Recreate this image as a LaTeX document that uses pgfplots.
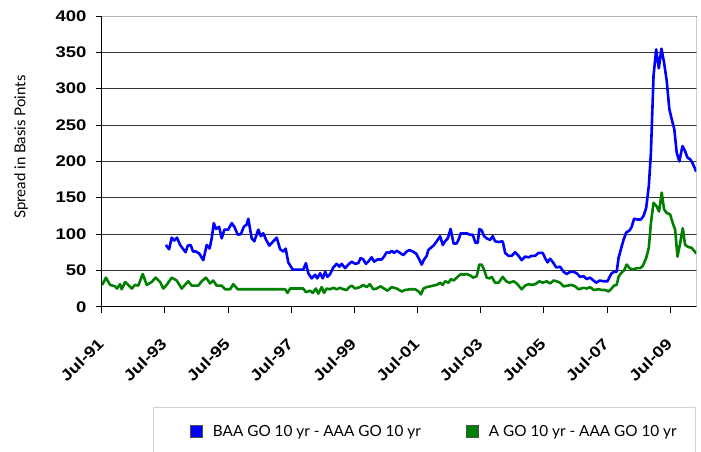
\documentclass[border=0pt]{standalone}
\usepackage{fontspec}
\setmainfont{Liberation Sans}
\newfontfamily\tickfont[FakeStretch=1.2]{Liberation Sans}
\newfontfamily\legfont{Lato}
\usepackage{pgfplots}
\pgfplotsset{compat=1.18}
\definecolor{ser1}{RGB}{0,0,255}
\definecolor{ser2}{RGB}{0,128,0}
\begin{document}
\begin{tikzpicture}
\useasboundingbox (0pt,0pt) rectangle (701pt,451pt);
\begin{axis}[
  at={(101.7pt,144.3pt)}, anchor=south west,
  scale only axis, width=595pt, height=290.7pt,
  xmin=0, xmax=226.1, ymin=0, ymax=400,
  xtick={0,24,...,216},
  xticklabels={Jul-91,Jul-93,Jul-95,Jul-97,Jul-99,Jul-01,Jul-03,Jul-05,Jul-07,Jul-09},
  ytick={0,50,...,400},
  axis lines*=left, axis line style={black, line width=0.9pt, -},
  tick align=outside, major tick length=6pt,
  tick style={black, line width=0.9pt},
  ymajorgrids, grid style={black!80, line width=0.8pt},
  /pgf/number format/assume math mode=true,
  ticklabel style={font=\tickfont\bfseries\fontsize{15.4}{18}\selectfont},
  yticklabel style={anchor=east, inner sep=0pt, xshift=-9pt},
  xticklabel style={inner sep=0pt, xshift=-5pt, yshift=-24pt, rotate=45, anchor=north east},
  ylabel={Spread in Basis Points},
  ylabel style={font=\legfont\fontsize{15}{17}\selectfont, at={(axis description cs:-0.1356,0.549)}, anchor=center},
  legend style={at={(axis description cs:0.0867,-0.344)}, anchor=north west,
    draw=gray!35, line width=1.2pt, font=\legfont\fontsize{15.3}{18}\selectfont,
    inner xsep=17pt, inner ysep=16pt,
    /tikz/every odd column/.append style={column sep=8pt},
    /tikz/every even column/.append style={column sep=43pt}},
  legend columns=2,
  line join=round,
]
\addplot[ser1, line width=2.6pt, legend image code/.code={\path (0pt,0pt); \draw[fill=ser1, draw=black!70, line width=0.6pt] (18pt,-6.2pt) rectangle (30.5pt,6.2pt);}] coordinates {
(24.4,85) (25.6,79) (26.6,95) (27.6,91) (28.6,95) (29.8,85) (31.0,79) (31.9,75) (32.7,84) (33.8,85) (34.7,76) (35.8,76) (37.1,73) (38.6,64) (39.9,85) (41.0,80) (41.8,94) (42.6,115) (43.4,107) (44.6,110) (45.6,94) (46.6,106) (48.1,106) (49.4,115) (50.4,110) (51.7,99) (52.9,100) (54.0,110) (55.1,113) (55.7,121) (57.0,94) (58.0,90) (59.5,106) (60.5,97) (61.4,101) (62.5,92) (63.7,84) (65.2,90) (66.5,95) (67.8,79) (69.0,76) (69.9,80) (70.9,61) (72.6,51) (76.6,51)
(77.6,60) (78.5,46) (79.8,39) (81.1,44) (81.9,39) (83.0,46) (84.0,39) (84.9,48) (85.8,41) (86.8,45) (88.0,54) (89.3,59) (90.3,55) (91.2,59) (92.5,53) (93.7,58) (95.0,62) (96.3,59) (97.5,60) (98.4,67) (99.4,65) (100.4,59) (101.3,62) (102.6,68) (103.5,62) (104.8,65) (106.4,65) (107.3,69) (108.3,75) (109.3,74) (110.2,77) (111.1,74) (112.1,77) (113.4,74) (114.6,71) (115.9,76) (116.9,78) (118.2,76) (119.5,73) (120.4,67) (121.6,58) (122.5,65) (123.5,70) (124.1,78) (125.4,82) (126.3,85) (127.3,90) (128.6,97) (129.6,85) (130.5,90) (131.5,94) (132.6,107) (133.7,87) (134.9,87) (135.8,94) (136.4,101) (137.5,101) (138.7,101) (140.0,99) (141.0,99) (142.0,88) (142.9,88) (143.5,107) (144.4,105) (145.3,97) (146.3,94) (147.6,92)
(148.6,97) (149.5,90) (150.8,89) (152.4,90) (153.3,74) (154.6,70) (155.8,70) (157.1,75) (158.4,70) (159.6,64) (160.9,69) (162.2,68) (163.4,70) (164.7,70) (166.0,74) (167.6,74) (168.5,67) (169.4,61) (170.4,66) (171.7,60) (172.7,54) (174.2,55) (175.5,48) (176.7,45) (178.0,48) (179.3,48) (180.5,46) (181.8,41) (183.1,42) (184.3,38) (185.6,40) (186.9,36) (187.9,33) (189.2,36) (190.7,35) (192.2,35) (193.0,41) (193.8,46) (194.7,48) (195.7,48) (196.4,67) (197.3,79) (198.3,92) (199.3,102) (200.6,105) (201.4,110) (202.3,121) (203.6,120) (204.9,120) (205.9,125) (206.9,136) (207.9,166) (208.7,212) (209.7,318) (210.7,354) (211.7,328) (212.7,355) (213.7,336) (214.7,311) (215.7,272) (216.6,258) (217.6,244) (218.5,212) (219.5,200) (220.7,221) (221.7,214) (222.6,205) (223.6,203) (224.6,197) (225.9,186)
};
\addlegendentry{BAA GO 10 yr - AAA GO 10 yr}
\addplot[ser2, line width=2.6pt, legend image code/.code={\draw[fill=ser2, draw=black!70, line width=0.6pt] (0pt,-6.2pt) rectangle (12.5pt,6.2pt);}] coordinates {
(0.2,30) (1.6,40) (3.2,30) (5.1,28) (5.8,25) (7.0,31) (7.6,24) (8.9,34) (10.1,30) (11.4,25) (12.7,30) (13.9,29) (15.6,45) (17.1,30) (19.0,34) (20.5,40) (22.2,34) (23.4,25) (24.7,30) (26.6,40) (28.5,36) (30.4,25) (32.9,35) (34.2,29) (36.7,29) (38.0,35) (39.6,40) (41.2,32) (42.4,36) (43.7,29) (45.6,29) (46.9,24) (48.8,24) (50.0,31) (51.7,24) (69.7,24) (70.6,19) (71.6,25)
(76.6,25) (77.6,20) (79.2,22) (80.2,19) (81.4,25) (82.3,18) (83.6,27) (84.5,19) (85.5,25) (86.8,24) (88.0,26) (89.3,24) (90.6,26) (91.8,24) (93.1,23) (94.1,27) (95.0,29) (96.3,25) (98.2,27) (99.4,30) (100.7,27) (101.9,31) (103.2,24) (104.5,25) (106.0,28) (107.3,25) (108.6,22) (110.2,27) (112.1,25) (114.0,21) (115.3,23) (117.2,24) (119.1,24) (120.4,21) (121.3,17) (122.3,25) (123.5,27) (124.8,28) (126.0,29) (127.3,30) (128.6,33) (129.6,30) (130.5,35) (131.8,33) (132.7,38) (133.7,36) (134.9,40) (136.5,45) (137.5,44) (138.7,45) (140.0,43) (141.2,40) (142.5,42) (143.5,58) (144.4,58) (145.3,51) (146.3,40) (147.3,39) (148.2,41)
(149.5,33) (150.8,33) (152.4,41) (153.7,35) (154.9,33) (156.5,35) (157.7,32) (159.6,24) (160.9,29) (162.2,31) (163.4,30) (164.7,31) (166.3,35) (167.6,33) (169.1,35) (170.4,32) (171.7,36) (172.9,35) (174.2,33) (175.5,28) (177.0,29) (178.6,30) (179.9,28) (181.2,24) (183.1,26) (184.3,25) (185.6,27) (186.9,23) (188.8,24) (190.1,23) (191.3,23) (192.6,21) (193.5,24) (194.7,29) (195.7,30) (196.4,41) (197.3,46) (198.5,50) (199.5,58) (200.6,53) (201.8,51) (203.3,53) (204.6,53) (205.6,56) (206.9,67) (207.9,81) (208.7,115) (209.7,143) (210.9,138) (211.8,131) (212.8,157) (213.7,134) (214.7,129) (216.0,127) (217.0,115) (217.9,106) (218.8,69) (219.8,87) (220.8,108) (221.7,85) (223.0,82) (224.2,81) (226.0,73)
};
\addlegendentry{A GO 10 yr - AAA GO 10 yr}
\draw[gray!60, line width=1.2pt] (rel axis cs:0,1) -- (rel axis cs:1,1) -- (rel axis cs:1,0);
\end{axis}
\end{tikzpicture}
\end{document}
